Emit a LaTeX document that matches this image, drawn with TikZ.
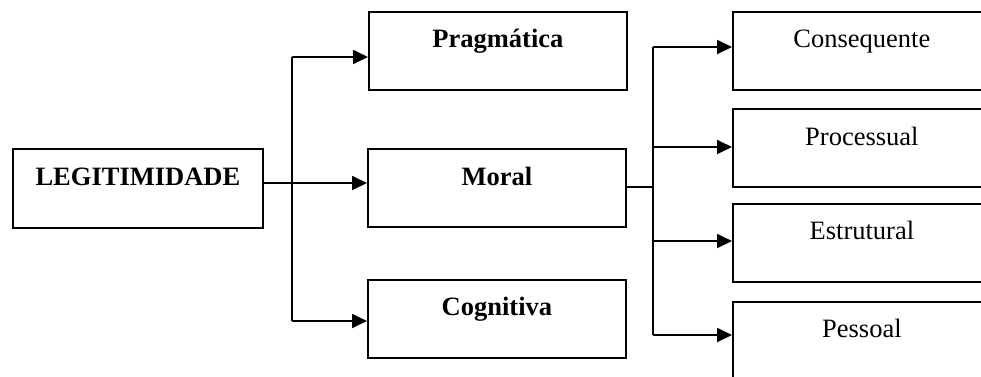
\documentclass[tikz,border=0pt]{standalone}
\usepackage{fontspec}
\setmainfont{Liberation Serif}
\usetikzlibrary{arrows.meta,calc}
\begin{document}
\begin{tikzpicture}[x=1pt,y=-1pt,
  box/.style={draw,line width=1.8pt,rectangle,inner sep=0pt,anchor=north west,
              minimum width=258pt,minimum height=78pt},
  lbl/.style={anchor=base,inner sep=0pt,font=\fontsize{26.5}{30}\selectfont},
  lblb/.style={lbl,font=\fontsize{26.5}{30}\selectfont\bfseries},
  link/.style={line width=1.8pt},
  arr/.style={link,-{Triangle[length=15pt,width=14pt]}}]
\useasboundingbox (0,0) rectangle (981,376);
\clip (0,0) rectangle (981,376);
\fill[white] (0,0) rectangle (981,376);

% root
\node[box,minimum width=250pt,minimum height=79pt] (leg) at (12,148) {};
\node[lblb] (legt) at ($(leg.north)+(0,37)$) {LEGITIMIDADE};

% three kinds of legitimacy
\node[box] (prag) at (368,11) {};
\node[lblb] (pragt) at ($(prag.north)+(0,36)$) {Pragmática};
\node[box] (moral) at (367,148) {};
\node[lblb] (moralt) at ($(moral.north)+(0,37)$) {Moral};
\node[box] (cog) at (367,279) {};
\node[lblb] (cogt) at ($(cog.north)+(0,36)$) {Cognitiva};

% forms of moral legitimacy
\node[box] (cons) at (732,11) {};
\node[lbl] (const) at ($(cons.north)+(0,36)$) {Consequente};
\node[box] (proc) at (732,108) {};
\node[lbl] (proct) at ($(proc.north)+(0,37)$) {Processual};
\node[box] (estr) at (732,203) {};
\node[lbl] (estrt) at ($(estr.north)+(0,36)$) {Estrutural};
\node[box] (pess) at (732,301) {};
\node[lbl] (pesst) at ($(pess.north)+(0,36)$) {Pessoal};

% first branching
\coordinate (ja) at (292,57);
\coordinate (jb) at (292,321);
\draw[link] (ja) -- (jb);
\draw[arr] (ja) -- (prag.west |- ja);
\draw[arr] (jb) -- (cog.west |- jb);
\draw[arr] (leg.east |- 0,183) -- (moral.west |- 0,183);

% second branching
\coordinate (jc) at (653,47);
\coordinate (jd) at (653,335);
\draw[link] (moral.east |- 0,187) -- (653,187);
\draw[link] (jc) -- (jd);
\draw[arr] (jc) -- (cons.west |- jc);
\draw[arr] (653,147) -- (proc.west |- 0,147);
\draw[arr] (653,241) -- (estr.west |- 0,241);
\draw[arr] (jd) -- (pess.west |- jd);
\end{tikzpicture}
\end{document}
